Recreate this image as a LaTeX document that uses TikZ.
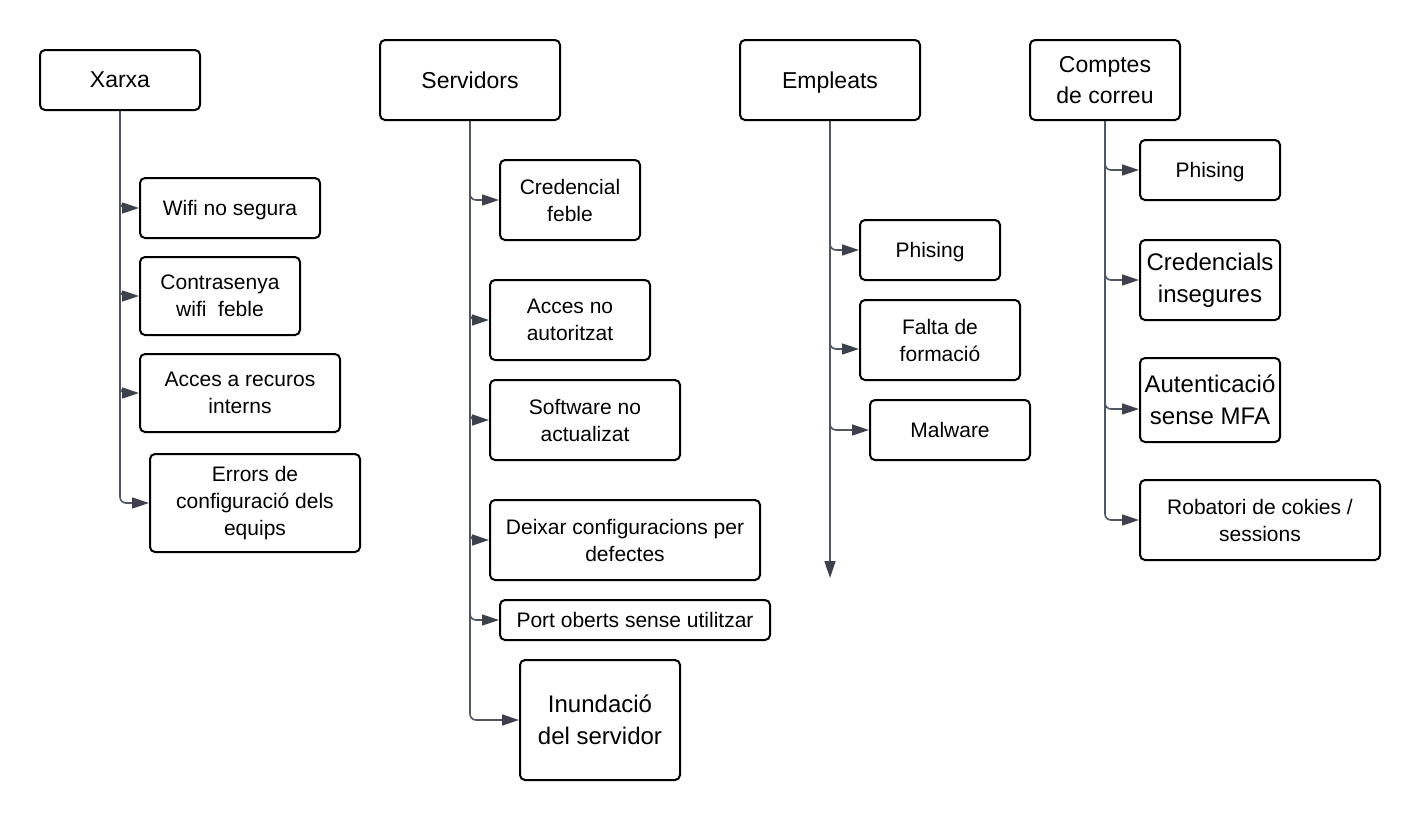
\documentclass[tikz,border=0pt]{standalone}
\usepackage{fontspec}
\setmainfont{Liberation Sans}
\usetikzlibrary{arrows.meta}
\definecolor{linkgray}{HTML}{50555F}
\definecolor{tipgray}{HTML}{3C414B}
\begin{document}
\begin{tikzpicture}[x=0.5pt,y=-0.5pt,>={Triangle[length=8.5pt,width=5.5pt,color=tipgray]},
	box/.style={draw,line width=1pt,rounded corners=2.5pt,align=center,inner sep=1pt,font=\fontsize{10.5}{13.5}\selectfont},
	cat/.style={box,font=\fontsize{11.5}{15.5}\selectfont},
	big/.style={box,font=\fontsize{12}{16}\selectfont},
	oneline/.style={text depth=0pt},
	link/.style={->,line width=0.8pt,draw=linkgray,rounded corners=3pt}]
	\useasboundingbox (0,0) rectangle (1420,820);
	% categories
	\node[cat,oneline,minimum width=80pt,minimum height=30pt] (xarxa) at (120,80) {Xarxa};
	\node[cat,oneline,minimum width=90pt,minimum height=40pt] (serv) at (470,80) {Servidors};
	\node[cat,oneline,minimum width=90pt,minimum height=40pt] (empl) at (830,80) {Empleats};
	\node[cat,minimum width=75pt,minimum height=40pt] (compt) at (1105,80) {Comptes\\de correu};
	% Xarxa
	\node[box,oneline,minimum width=90pt,minimum height=30pt] (wifi) at (230,208) {Wifi no segura};
	\node[box,minimum width=80pt,minimum height=39pt] (contra) at (220,296) {Contrasenya\\wifi~~feble};
	\node[box,minimum width=100pt,minimum height=39pt] (recurs) at (240,393) {Acces a recuros\\interns};
	\node[box,minimum width=105pt,minimum height=49pt] (errors) at (255,503) {Errors de\\configuració dels\\equips};
	% Servidors
	\node[box,minimum width=70pt,minimum height=40pt] (cred) at (570,200) {Credencial\\feble};
	\node[box,minimum width=80pt,minimum height=40pt] (acces) at (570,320) {Acces no\\autoritzat};
	\node[box,minimum width=95pt,minimum height=40pt] (soft) at (585,420) {Software no\\actualizat};
	\node[box,minimum width=135pt,minimum height=40pt] (deix) at (625,540) {Deixar configuracions per\\defectes};
	\node[box,oneline,minimum width=135pt,minimum height=20pt] (port) at (635,620) {Port oberts sense utilitzar};
	\node[big,minimum width=80pt,minimum height=60pt] (inund) at (600,720) {Inundació\\del servidor};
	% Empleats
	\node[box,oneline,minimum width=70pt,minimum height=30pt] (phise) at (930,250) {Phising};
	\node[box,minimum width=80pt,minimum height=40pt] (falta) at (940,340) {Falta de\\formació};
	\node[box,oneline,minimum width=80pt,minimum height=30pt] (malw) at (950,430) {Malware};
	\coordinate (emplfi) at (830,578);
	% Comptes de correu
	\node[box,oneline,minimum width=70pt,minimum height=30pt] (phisc) at (1210,170) {Phising};
	\node[big,minimum width=70pt,minimum height=40pt] (credi) at (1210,280) {Credencials\\insegures};
	\node[big,minimum width=70pt,minimum height=42pt] (auten) at (1210,400) {Autenticació\\sense MFA};
	\node[box,minimum width=120pt,minimum height=40pt] (robat) at (1260,520) {Robatori de cokies /\\sessions};
	\coordinate (falta-in) at ([yshift=-4.5pt]falta.west);
	\coordinate (auten-in) at ([yshift=-4.5pt]auten.west);
	% connectors
	\foreach \c in {wifi,contra,recurs,errors}
		\draw[link] (xarxa.south) |- (\c.west);
	\foreach \c in {cred,acces,soft,deix,port,inund}
		\draw[link] (serv.south) |- (\c.west);
	\foreach \c in {phise.west,falta-in,malw.west}
		\draw[link] (empl.south) |- (\c);
	\draw[link] (empl.south) -- (emplfi);
	\foreach \c in {phisc.west,credi.west,auten-in,robat.west}
		\draw[link] (compt.south) |- (\c);
\end{tikzpicture}
\end{document}
